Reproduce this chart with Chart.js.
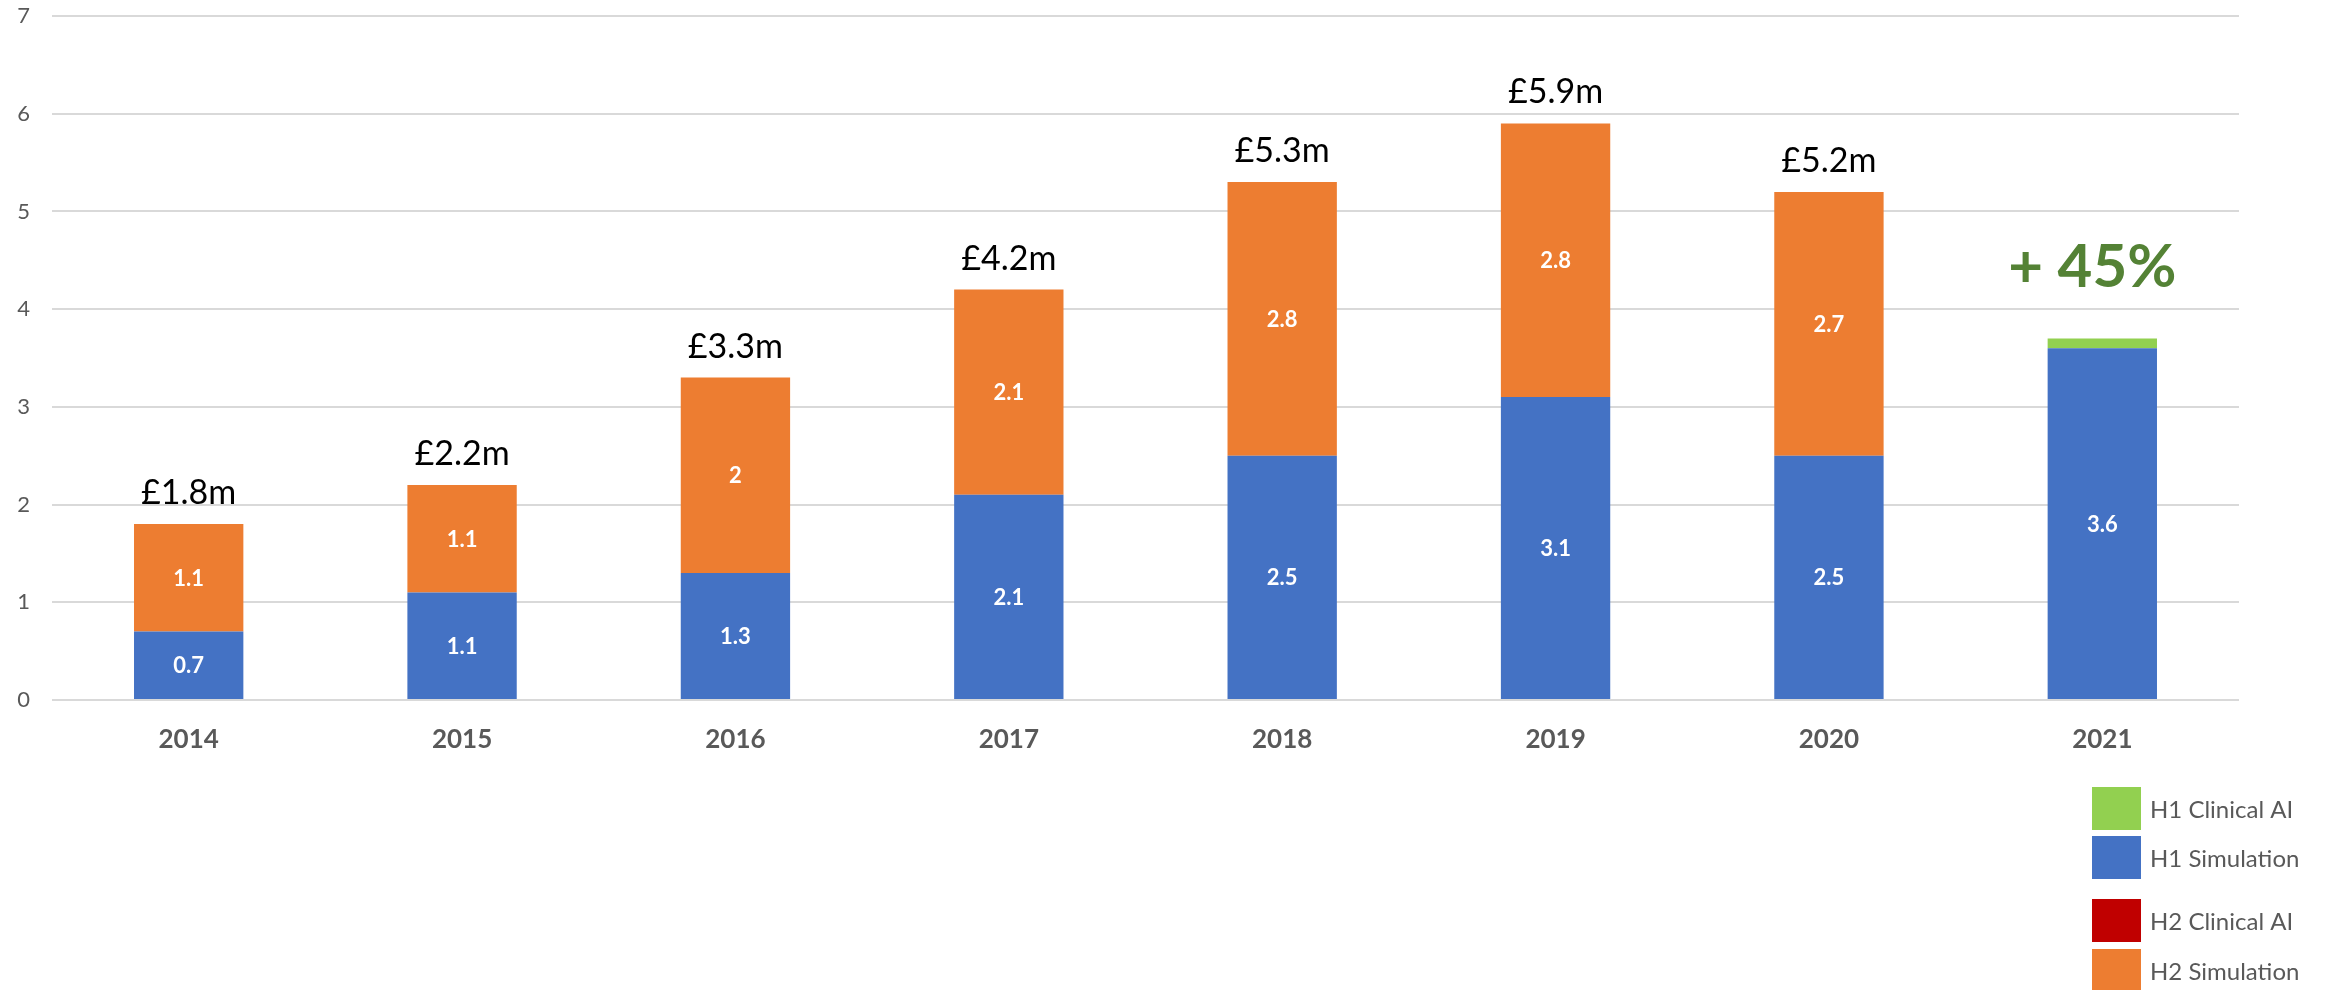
<!DOCTYPE html>
<html>
<head>
<meta charset="utf-8">
<script src="https://cdn.jsdelivr.net/npm/chart.js@4/dist/chart.umd.min.js"></script>
<style>
  html, body { margin: 0; padding: 0; background: #ffffff; }
  #wrap { width: 2326px; height: 990px; position: relative; }
</style>
</head>
<body>
<div id="wrap"><canvas id="c" width="2326" height="990"></canvas></div>
<script>
// ---- data ----
const categories = ["2014", "2015", "2016", "2017", "2018", "2019", "2020", "2021"];
const h1Simulation = [0.7, 1.1, 1.3, 2.1, 2.5, 3.1, 2.5, 3.6];
const h1ClinicalAI = [0, 0, 0, 0, 0, 0, 0, 0.1];
const h2Simulation = [1.1, 1.1, 2, 2.1, 2.8, 2.8, 2.7, 0];
const h2ClinicalAI = [0, 0, 0, 0, 0, 0, 0, 0];
const topLabels = ["£1.8m", "£2.2m", "£3.3m", "£4.2m", "£5.3m", "£5.9m", "£5.2m", "+ 45%"];
const yTicks = [0, 1, 2, 3, 4, 5, 6, 7];
const legendNames = ["H1 Clinical AI", "H1 Simulation", "H2 Clinical AI", "H2 Simulation"];

const FONT = "Lato, 'Open Sans', sans-serif";
const colors = {
  "H1 Simulation": "#4472C4",
  "H1 Clinical AI": "#92D050",
  "H2 Simulation": "#ED7D31",
  "H2 Clinical AI": "#C00000"
};
const highlightIndex = 7;

const segmentLabels = {
  id: "segmentLabels",
  afterDatasetsDraw(chart) {
    const ctx = chart.ctx;
    ctx.save();
    ctx.textAlign = "center";
    ctx.textBaseline = "middle";
    ctx.fillStyle = "#ffffff";
    ctx.font = "bold 22px " + FONT;
    chart.data.datasets.forEach((ds, di) => {
      const meta = chart.getDatasetMeta(di);
      meta.data.forEach((el, i) => {
        const v = ds.data[i];
        if (v >= 0.5) {
          const p = el.getProps(["x", "y", "base"], true);
          ctx.fillText(String(v), p.x, (p.y + p.base) / 2 + 1);
        }
      });
    });
    // totals on top
    const n = chart.data.labels.length;
    for (let i = 0; i < n; i++) {
      let topY = Infinity, x = 0;
      chart.data.datasets.forEach((ds, di) => {
        const el = chart.getDatasetMeta(di).data[i];
        if (ds.data[i] > 0) {
          const p = el.getProps(["x", "y"], true);
          if (p.y < topY) { topY = p.y; x = p.x; }
        }
      });
      if (i === highlightIndex) {
        ctx.fillStyle = "#548235";
        ctx.font = "bold 60px " + FONT;
        ctx.textBaseline = "alphabetic";
        ctx.fillText(topLabels[i], x - 10, topY - 51);
      } else {
        ctx.fillStyle = "#000000";
        ctx.font = "34px " + FONT;
        ctx.textBaseline = "alphabetic";
        ctx.fillText(topLabels[i], x, topY - 20);
      }
    }
    ctx.restore();
  }
};

const customLegend = {
  id: "customLegend",
  afterDraw(chart) {
    const ctx = chart.ctx;
    ctx.save();
    const tops = [787, 836, 899, 949];
    ctx.font = "24px " + FONT;
    ctx.textBaseline = "middle";
    ctx.textAlign = "left";
    legendNames.forEach((name, k) => {
      const ds = chart.data.datasets.find(d => d.label === name);
      ctx.fillStyle = ds.backgroundColor;
      ctx.fillRect(2092, tops[k], 49, 43);
      ctx.fillStyle = "#595959";
      ctx.fillText(name, 2150, tops[k] + 23);
    });
    ctx.restore();
  }
};

new Chart(document.getElementById("c"), {
  type: "bar",
  data: {
    labels: categories,
    datasets: [
      { label: "H1 Simulation", data: h1Simulation, backgroundColor: colors["H1 Simulation"] },
      { label: "H1 Clinical AI", data: h1ClinicalAI, backgroundColor: colors["H1 Clinical AI"] },
      { label: "H2 Simulation", data: h2Simulation, backgroundColor: colors["H2 Simulation"] },
      { label: "H2 Clinical AI", data: h2ClinicalAI, backgroundColor: colors["H2 Clinical AI"] }
    ]
  },
  options: {
    responsive: false,
    animation: false,
    devicePixelRatio: 1,
    layout: { padding: { left: 0, right: 87, top: 16, bottom: 0 } },
    datasets: { bar: { barPercentage: 0.4, categoryPercentage: 1.0, borderWidth: 0 } },
    plugins: { legend: { display: false }, tooltip: { enabled: false } },
    scales: {
      x: {
        stacked: true,
        grid: { display: false, drawTicks: false },
        border: { display: false },
        ticks: { color: "#595959", font: { family: FONT, size: 26, weight: "bold" }, padding: 24 },
        afterFit(scale) { scale.height = 290; scale.paddingLeft = 0; scale.paddingRight = 0; }
      },
      y: {
        stacked: true,
        min: 0, max: 7,
        afterBuildTicks(scale) { scale.ticks = yTicks.map(v => ({ value: v })); },
        grid: { color: "#d9d9d9", lineWidth: 2, drawTicks: false },
        border: { display: false },
        ticks: { color: "#595959", font: { family: FONT, size: 22 }, padding: 22 },
        afterFit(scale) { scale.width = 52; scale.paddingTop = 0; scale.paddingBottom = 0; }
      }
    }
  },
  plugins: [segmentLabels, customLegend]
});
</script>
</body>
</html>
